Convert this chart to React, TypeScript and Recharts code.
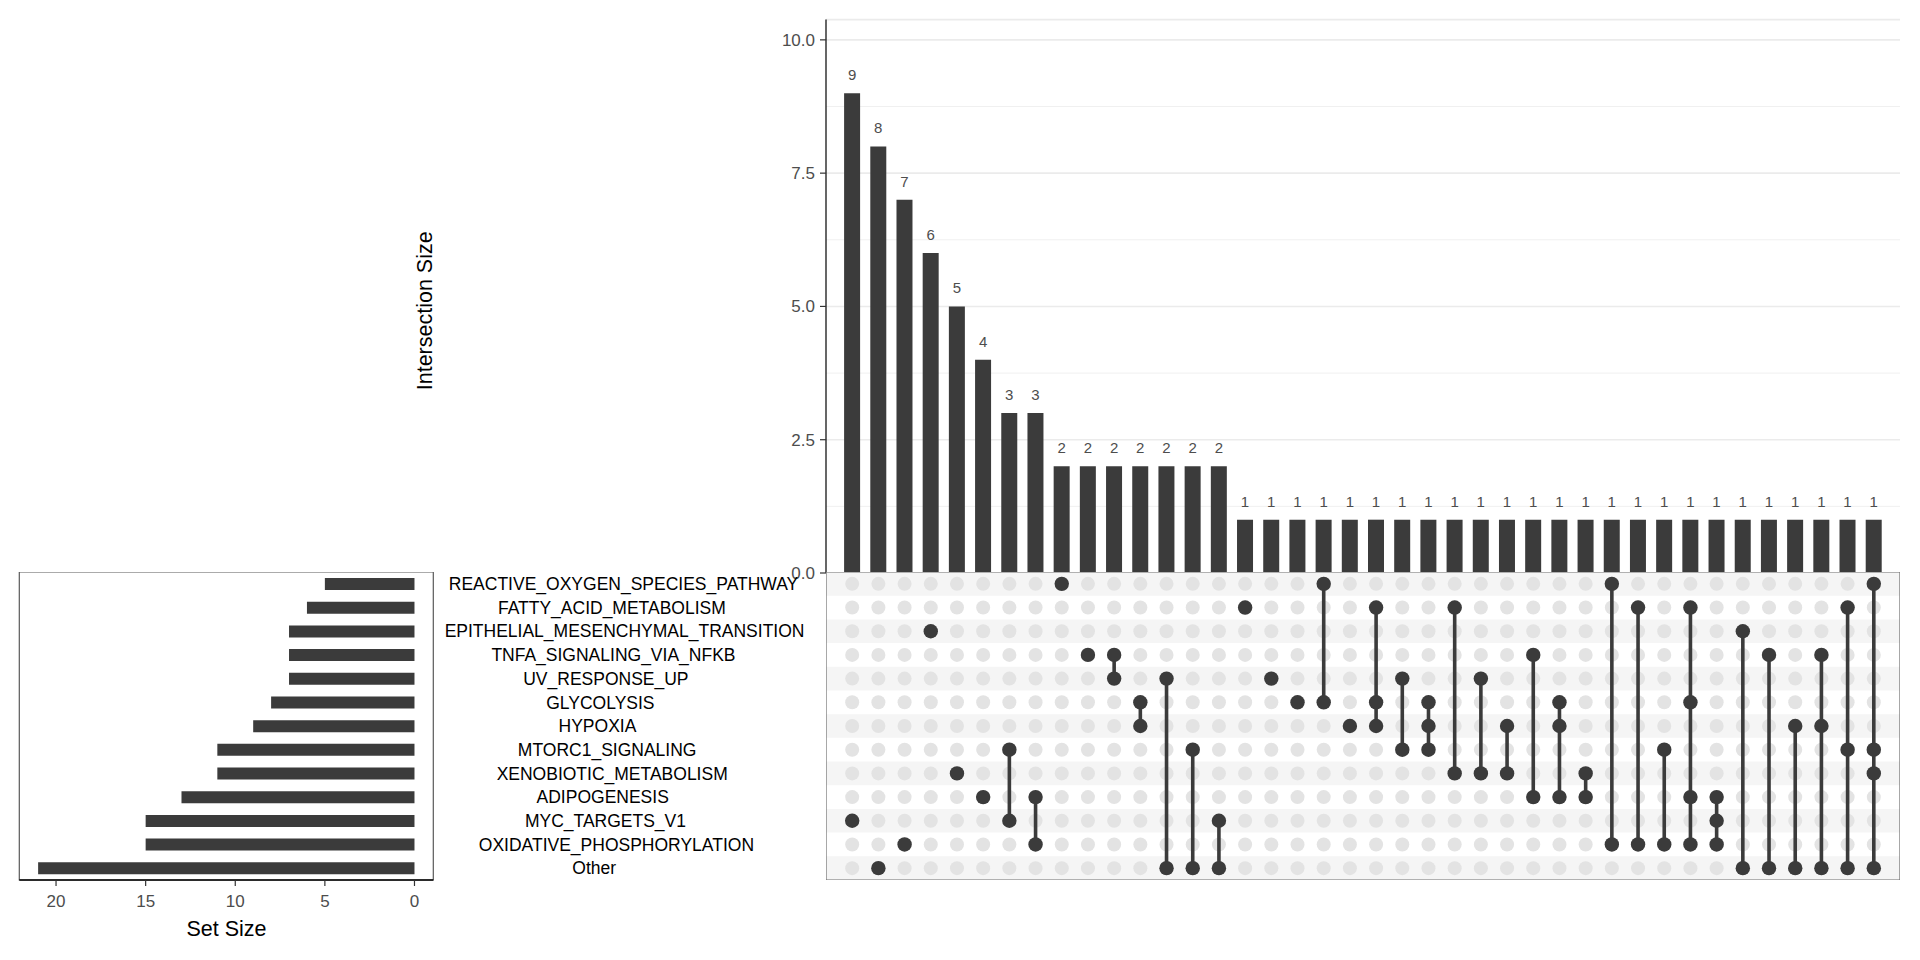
import React from "react";
import {
  Bar,
  BarChart,
  CartesianGrid,
  LabelList,
  ReferenceArea,
  Scatter,
  ScatterChart,
  XAxis,
  YAxis,
} from "recharts";

// sets, top to bottom as they appear in the matrix
const setNames = [
  "REACTIVE_OXYGEN_SPECIES_PATHWAY",
  "FATTY_ACID_METABOLISM",
  "EPITHELIAL_MESENCHYMAL_TRANSITION",
  "TNFA_SIGNALING_VIA_NFKB",
  "UV_RESPONSE_UP",
  "GLYCOLYSIS",
  "HYPOXIA",
  "MTORC1_SIGNALING",
  "XENOBIOTIC_METABOLISM",
  "ADIPOGENESIS",
  "MYC_TARGETS_V1",
  "OXIDATIVE_PHOSPHORYLATION",
  "Other",
];
const setSizes = [5, 6, 7, 7, 7, 8, 9, 11, 11, 13, 15, 15, 21];

const intersectionSizes = [
  9, 8, 7, 6, 5, 4, 3, 3, 2, 2, 2, 2, 2, 2, 2,
  1, 1, 1, 1, 1, 1, 1, 1, 1, 1, 1, 1, 1, 1, 1, 1, 1, 1, 1, 1, 1, 1, 1, 1, 1,
];
// row indexes (into setNames) that belong to each intersection column
const intersectionSets = [
  [10], [12], [11], [2], [8], [9], [7, 10], [9, 11], [0], [3], [3, 4], [5, 6],
  [4, 12], [7, 12], [10, 12], [1], [4], [5], [0, 5], [6], [1, 5, 6], [4, 7],
  [5, 6, 7], [1, 8], [4, 8], [6, 8], [3, 9], [5, 6, 9], [8, 9], [0, 11],
  [1, 11], [7, 11], [1, 5, 9, 11], [9, 10, 11], [2, 12], [3, 12], [6, 12],
  [3, 6, 12], [1, 7, 12], [0, 7, 8, 12],
];

const countTicks = [0, 2.5, 5, 7.5, 10];
const minorGrid = [1.25, 3.75, 6.25, 8.75];
const setSizeTicks = [0, 5, 10, 15, 20];

const FONT = '"Liberation Sans", Arial, Helvetica, sans-serif';
const DARK = "#3b3b3b";

const columns = intersectionSizes.map((size, i) => ({ x: i + 1, size }));
const colTicks = columns.map((c) => c.x);
const setRows = setNames.map((name, i) => ({ name, size: setSizes[i] }));
const emptyDots = columns.flatMap((c) => setNames.map((_, r) => ({ x: c.x, y: r })));
const filledByColumn = intersectionSets.map((rows, i) => rows.map((r) => ({ x: i + 1, y: r })));
const stripeRows = setNames.map((_, i) => i).filter((i) => i % 2 === 0);

let ctx: CanvasRenderingContext2D | null = null;
function textWidth(s: string, font: string) {
  if (!ctx) ctx = document.createElement("canvas").getContext("2d");
  if (!ctx) return s.length * 10;
  ctx.font = font;
  return ctx.measureText(s).width;
}

function SetLabel(props: any) {
  const { y, payload } = props;
  const w = textWidth(payload.value, `17.5px ${FONT}`);
  return (
    <text x={590 - 0.404 * w} y={y} dy="0.355em" fontSize={17.5} fill="#000" fontFamily={FONT}>
      {payload.value}
    </text>
  );
}

const intersectionTitle = () => (
  <text
    x={24.7}
    y={310.8}
    transform="rotate(-90 24.7 310.8)"
    textAnchor="middle"
    dy="0.355em"
    fontSize={21.5}
    fill="#000"
    fontFamily={FONT}
  >
    Intersection Size
  </text>
);

const setSizeTitle = () => (
  <text x={226.5} y={356.3} textAnchor="middle" dy="0.355em" fontSize={21.5} fill="#000" fontFamily={FONT}>
    Set Size
  </text>
);

const greyDot = (p: any) => <circle cx={p.cx} cy={p.cy} r={7} fill="#e3e3e3" />;
const darkDot = (p: any) => <circle cx={p.cx} cy={p.cy} r={7.2} fill={DARK} />;

export default function App() {
  return (
    <div
      style={{
        position: "absolute",
        left: 0,
        top: 0,
        width: 1920,
        height: 960,
        background: "#fff",
        fontFamily: FONT,
      }}
    >
      {/* intersection size bars */}
      <div style={{ position: "absolute", left: 400, top: 0 }}>
        <BarChart
          width={1520}
          height={600}
          data={columns}
          margin={{ top: 19.6, right: 20, bottom: 27, left: 0 }}
        >
          <CartesianGrid vertical={false} horizontalValues={minorGrid} stroke="#f0f0f0" strokeWidth={1} />
          <CartesianGrid vertical={false} stroke="#ebebeb" strokeWidth={1.6} />
          <XAxis type="number" dataKey="x" domain={[0, 41]} ticks={colTicks} hide />
          <YAxis
            type="number"
            domain={[0, 10.38]}
            ticks={countTicks}
            interval={0}
            width={426}
            tickSize={6}
            tickMargin={5}
            tickFormatter={(v: number) => v.toFixed(1)}
            tick={{ fill: "#4d4d4d", fontSize: 17 }}
            axisLine={{ stroke: "#000", strokeWidth: 1.2 }}
            tickLine={{ stroke: "#333", strokeWidth: 1.2 }}
            label={{ content: intersectionTitle }}
          />
          <Bar dataKey="size" fill={DARK} barSize={16} isAnimationActive={false}>
            <LabelList dataKey="size" position="top" offset={13} fill="#4d4d4d" fontSize={15} />
          </Bar>
        </BarChart>
      </div>

      {/* membership matrix */}
      <div style={{ position: "absolute", left: 826, top: 572 }}>
        <ScatterChart width={1074} height={308} margin={{ top: 0, right: 0, bottom: 0, left: 0 }}>
          <XAxis type="number" dataKey="x" domain={[0, 41]} hide />
          <YAxis type="number" dataKey="y" domain={[-0.5, 12.5]} reversed hide />
          {stripeRows.map((r) => (
            <ReferenceArea
              key={r}
              y1={r - 0.5}
              y2={r + 0.5}
              fill="#f5f5f5"
              fillOpacity={1}
              stroke="none"
            />
          ))}
          <ReferenceArea
            x1={0}
            x2={41}
            y1={-0.5}
            y2={12.5}
            fill="none"
            stroke="#6e6e6e"
            strokeWidth={1.2}
          />
          <Scatter data={emptyDots} shape={greyDot} isAnimationActive={false} />
          {filledByColumn.map((pts, i) => (
            <Scatter
              key={i}
              data={pts}
              line={{ stroke: DARK, strokeWidth: 3.6 }}
              shape={darkDot}
              isAnimationActive={false}
            />
          ))}
        </ScatterChart>
      </div>

      {/* set sizes with set labels */}
      <div style={{ position: "absolute", left: 0, top: 572 }}>
        <BarChart
          width={826}
          height={372}
          data={setRows}
          layout="vertical"
          margin={{ top: 0, right: 0, bottom: 0, left: 19.3 }}
        >
          <XAxis
            type="number"
            domain={[-1.05, 22.05]}
            reversed
            ticks={setSizeTicks}
            interval={0}
            height={64}
            tickSize={6}
            tickMargin={9}
            tick={{ fill: "#4d4d4d", fontSize: 17 }}
            axisLine={{ stroke: "#000", strokeWidth: 1.3 }}
            tickLine={{ stroke: "#333", strokeWidth: 1.2 }}
            label={{ content: setSizeTitle }}
          />
          <YAxis
            type="category"
            dataKey="name"
            orientation="right"
            width={392.7}
            axisLine={false}
            tickLine={false}
            interval={0}
            tick={<SetLabel />}
          />
          <ReferenceArea x1={-1.05} x2={22.05} fill="none" stroke="#595959" strokeWidth={1.2} />
          <Bar dataKey="size" fill={DARK} barSize={12} isAnimationActive={false} />
        </BarChart>
      </div>
    </div>
  );
}
